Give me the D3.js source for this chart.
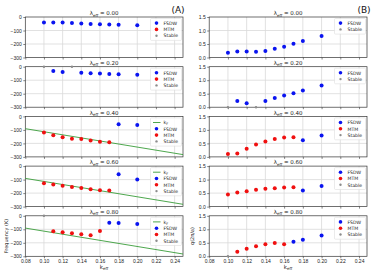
<!DOCTYPE html>
<html>
<head>
<meta charset="utf-8">
<script src="https://cdn.jsdelivr.net/npm/d3@7"></script>
<style>
  body { margin: 0; background: #fff; }
  svg { font-family: "DejaVu Sans", sans-serif; }
  .grid line { stroke: #d9d9d9; stroke-width: 0.8; }
  .tick text { font-size: 5px; fill: #222; }
</style>
</head>
<body>
<div id="chart"></div>
<script>
// panel parameter (titles)
var lambdas = [0.00, 0.20, 0.40, 0.60, 0.80];
// x values shared by all panels
var kEff = [0.10, 0.11, 0.12, 0.13, 0.14, 0.15, 0.16, 0.17, 0.18, 0.20];
// column A: frequency, one row per panel
var freqVals = [
  [-41, -40, -40, -44, -48, -51, -54, -56, -58, -61],
  [0, -32, -39, 0, -44, -49, -51, -54, -56, -59],
  [-120, -140, -155, -165, -167, -179, -187, -192, -59, -64],
  [-127, -137, -146, -154, -163, -171, -178, -180, -61, -100],
  [0, -115, -122, -129, -137, -144, -112, -51, -54, -61]
];
// column B: q, one row per panel
var qVals = [
  [0.18, 0.22, 0.22, 0.21, 0.24, 0.32, 0.40, 0.51, 0.61, 0.80],
  [0, 0.23, 0.15, 0, 0.23, 0.34, 0.43, 0.52, 0.62, 0.80],
  [0.11, 0.13, 0.30, 0.46, 0.57, 0.66, 0.72, 0.73, 0.62, 0.79],
  [0.45, 0.52, 0.57, 0.62, 0.66, 0.68, 0.71, 0.72, 0.60, 0.76],
  [0, 0.17, 0.28, 0.37, 0.45, 0.49, 0.45, 0.54, 0.61, 0.77]
];
// phase of each point: F = FSDW, M = MTM, S = Stable
var phases = ["FFFFFFFFFF", "SFFSFFFFFF", "MMMMMMMMFF", "MMMMMMMMFF", "SMMMMMMFFF"];
// green reference line (panels 3..5 of column A)
var lineK = [0.08, 0.249];
var lineVals = [-91, -283];
var xTicks = [0.08, 0.10, 0.12, 0.14, 0.16, 0.18, 0.20, 0.22, 0.24];
var freqTicks = [0, -100, -200, -300];
var qTicks = [0.0, 0.5, 1.0, 1.5];

var phaseColor = {F: "#0a14f0", M: "#f01010", S: "#8c8c8c"};
var phaseName = {F: "FSDW", M: "MTM", S: "Stable"};

var W = 374, H = 274;
var svg = d3.select("#chart").append("svg")
    .attr("width", W)
    .attr("height", H);

var rowTop = function(i) { return 17 + i * 49.7; };
var rowH = 40.5;

var xA = d3.scaleLinear().domain([0.08, 0.249]).range([25.3, 183]);
var xB = d3.scaleLinear().domain([0.08, 0.2485]).range([209.2, 367]);

function titleText(g, cx, y, val) {
  var t = g.append("text")
    .attr("x", cx).attr("y", y)
    .attr("text-anchor", "middle")
    .style("font-size", "5.5px")
    .attr("fill", "#222");
  t.append("tspan").text("λ");
  t.append("tspan").attr("dy", 1.3).style("font-size", "4px").text("eff");
  t.append("tspan").attr("dy", -1.3).text(" = " + val.toFixed(2));
}

function drawPanel(i, col) {
  var x = col == "A" ? xA : xB;
  var top = rowTop(i);
  var y = col == "A"
    ? d3.scaleLinear().domain([-300, 0]).range([top + rowH, top])
    : d3.scaleLinear().domain([0, 1.5]).range([top + rowH, top]);
  var vals = col == "A" ? freqVals[i] : qVals[i];
  var g = svg.append("g");
  var x0 = x.range()[0], x1 = x.range()[1];

  // grid
  g.append("g").attr("class", "grid")
    .selectAll("line").data(xTicks.slice(1)).enter().append("line")
    .attr("x1", function(d) { return x(d); }).attr("x2", function(d) { return x(d); })
    .attr("y1", top).attr("y2", top + rowH);
  g.append("g").attr("class", "grid")
    .selectAll("line").data(col == "A" ? freqTicks.slice(1, 3) : qTicks.slice(1, 3)).enter().append("line")
    .attr("x1", x0).attr("x2", x1)
    .attr("y1", function(d) { return y(d); }).attr("y2", function(d) { return y(d); });

  // axes
  var yAxis = d3.axisLeft(y).tickValues(col == "A" ? freqTicks : qTicks)
    .tickSize(2).tickPadding(1.5)
    .tickFormat(col == "A" ? d3.format("d") : d3.format(".1f"));
  var ya = g.append("g").attr("transform", "translate(" + x0 + ",0)").call(yAxis);
  ya.select(".domain").remove();

  var xAxis = d3.axisBottom(x).tickValues(xTicks).tickSize(2).tickPadding(1.5)
    .tickFormat(i == 4 ? d3.format(".2f") : "");
  var xa = g.append("g").attr("transform", "translate(0," + (top + rowH) + ")").call(xAxis);
  xa.select(".domain").remove();
  g.selectAll(".tick line").attr("stroke", "#333").attr("stroke-width", 0.6);

  g.append("rect")
    .attr("x", x0).attr("y", top)
    .attr("width", x1 - x0).attr("height", rowH)
    .attr("fill", "none").attr("stroke", "#333").attr("stroke-width", 0.7);

  // reference line
  var hasLine = col == "A" && i >= 2;
  if (hasLine) {
    g.append("line")
      .attr("x1", x(lineK[0])).attr("y1", y(lineVals[0]))
      .attr("x2", x(lineK[1])).attr("y2", y(lineVals[1]))
      .attr("stroke", "#3a9d3a").attr("stroke-width", 0.9);
  }

  // points
  var pts = kEff.map(function(k, j) { return {k: k, v: vals[j], p: phases[i][j]}; });
  g.selectAll("circle.pt").data(pts).enter().append("circle")
    .attr("class", "pt")
    .attr("cx", function(d) { return x(d.k); })
    .attr("cy", function(d) { return y(d.v); })
    .attr("r", function(d) { return d.p == "S" ? 1.2 : 2; })
    .attr("fill", function(d) { return phaseColor[d.p]; });

  titleText(g, (x0 + x1) / 2, top - 1.8, lambdas[i]);

  // legend
  var items = [];
  if (hasLine) items.push("L");
  if (col == "A" || i >= 2) { items.push("F", "M", "S"); } else { items.push("F", "S"); }
  var lw = 31, lh = items.length * 6.3 + 3;
  var lx = x1 - lw - 1.5, ly = top + 1.5;
  var leg = g.append("g");
  leg.append("rect").attr("x", lx).attr("y", ly).attr("width", lw).attr("height", lh)
    .attr("rx", 1).attr("fill", "#fff").attr("fill-opacity", 0.85)
    .attr("stroke", "#ddd").attr("stroke-width", 0.6);
  items.forEach(function(it, j) {
    var cy = ly + 4.6 + j * 6.3;
    if (it == "L") {
      leg.append("line").attr("x1", lx + 2.5).attr("x2", lx + 10).attr("y1", cy).attr("y2", cy)
        .attr("stroke", "#3a9d3a").attr("stroke-width", 0.9);
      var t = leg.append("text").attr("x", lx + 13).attr("y", cy + 1.7)
        .style("font-size", "4.6px").attr("fill", "#222");
      t.append("tspan").text("k");
      t.append("tspan").attr("dy", 1).style("font-size", "3.4px").text("F");
    } else {
      leg.append("circle").attr("cx", lx + 6).attr("cy", cy)
        .attr("r", it == "S" ? 1.2 : 1.8).attr("fill", phaseColor[it]);
      leg.append("text").attr("x", lx + 13).attr("y", cy + 1.7)
        .style("font-size", "4.6px").attr("fill", "#222").text(phaseName[it]);
    }
  });
}

for (var i = 0; i < 5; i++) {
  drawPanel(i, "A");
  drawPanel(i, "B");
}

// column labels
svg.append("text").attr("x", 178).attr("y", 13).attr("text-anchor", "middle")
  .style("font-size", "9px").attr("fill", "#111").text("(A)");
svg.append("text").attr("x", 364).attr("y", 13).attr("text-anchor", "middle")
  .style("font-size", "9px").attr("fill", "#111").text("(B)");

// axis labels
function xLabel(cx) {
  var t = svg.append("text").attr("x", cx).attr("y", 269).attr("text-anchor", "middle")
    .style("font-size", "5.5px").attr("fill", "#222");
  t.append("tspan").text("k");
  t.append("tspan").attr("dy", 1.3).style("font-size", "4px").text("eff");
}
xLabel(104);
xLabel(288);

svg.append("text")
  .attr("transform", "translate(8,236) rotate(-90)")
  .attr("text-anchor", "middle")
  .style("font-size", "5px").attr("fill", "#222")
  .text("Frequency (K)");
svg.append("text")
  .attr("transform", "translate(194,236) rotate(-90)")
  .attr("text-anchor", "middle")
  .style("font-size", "5px").attr("fill", "#222")
  .text("q(2π/a)");
</script>
</body>
</html>
